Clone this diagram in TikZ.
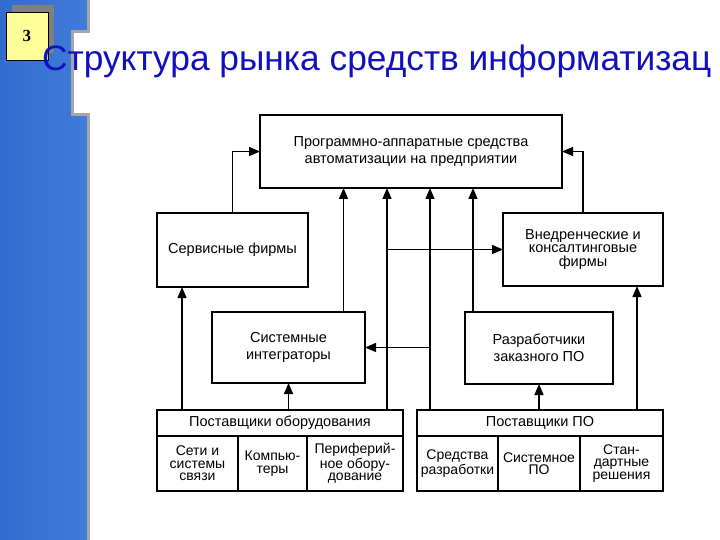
\documentclass[tikz,border=0pt]{standalone}
\usepackage{fontspec}
\setmainfont{Liberation Sans}
\newfontfamily\numfont{Liberation Serif}
\usetikzlibrary{arrows.meta}
\definecolor{stripe}{RGB}{50,108,208}
\definecolor{stripelight}{RGB}{64,124,218}
\definecolor{titleblue}{RGB}{16,16,190}
\definecolor{numyellow}{RGB}{255,255,153}

\begin{document}
\begin{tikzpicture}[x=1pt, y=-1pt,
    box/.style={draw, line width=1.4pt, inner sep=0pt, outer sep=0pt, align=center,
      font=\fontsize{14.5}{16.5}\selectfont},
    cell/.style={box, font=\fontsize{14}{12.5}\selectfont},
    arr/.style={line width=1.4pt, -{Triangle[length=11pt, width=9pt]}}]
  \useasboundingbox (0,0) rectangle (720,540);

  % left stripe
  \shade[left color=stripe, right color=stripelight] (0,0) -- (88,0) -- (88,32) -- (72,32) -- (72,115) -- (88,115) -- (88,540) -- (0,540) -- cycle;
  \draw[gray!70, line width=3pt] (88,0) -- (88,32) -- (72,32) -- (72,115) -- (88,115) -- (88,540);

  % slide number and title
  \fill[gray] (12,5) rectangle (54,53);
  \node[draw, fill=numyellow, minimum width=42pt, minimum height=48pt, inner sep=0pt, outer sep=0pt,
    font=\numfont\bfseries\fontsize{17}{17}\selectfont] (num) at (27,36) {3};
  \node[anchor=base west, text=titleblue, inner sep=0pt, font=\fontsize{35.3}{40}\selectfont] (title) at (42,71)
    {Структура рынка средств информатизац};

  % boxes
  \node[box, minimum width=302pt, minimum height=73pt] (top) at (411,151.5) {Программно-аппаратные средства\\автоматизации на предприятии};
  \node[box, minimum width=151pt, minimum height=74pt] (serv) at (232.5,250) {Сервисные фирмы};
  \node[box, minimum width=160pt, minimum height=73pt, font=\fontsize{14.5}{13.5}\selectfont] (vnedr) at (583,249.5) {Внедренческие и\\консалтинговые\\фирмы};
  \node[box, minimum width=153pt, minimum height=71pt] (integ) at (288.5,347.5) {Системные\\интеграторы};
  \node[box, minimum width=148pt, minimum height=72pt] (dev) at (539,348) {Разработчики\\заказного ПО};

  % suppliers
  \node[box, minimum width=246pt, minimum height=26pt] (hwhead) at (280,423) {Поставщики оборудования};
  \node[cell, minimum width=81pt, minimum height=55pt] (hw1) at (197.5,463.5) {Сети и\\системы\\связи};
  \node[cell, minimum width=69pt, minimum height=55pt] (hw2) at (272.5,463.5) {Компью-\\теры};
  \node[cell, minimum width=96pt, minimum height=55pt] (hw3) at (355,463.5) {Периферий-\\ное обору-\\дование};
  \node[box, minimum width=246pt, minimum height=26pt] (swhead) at (540,423) {Поставщики ПО};
  \node[cell, minimum width=81pt, minimum height=55pt] (sw1) at (457.5,463.5) {Средства\\разработки};
  \node[cell, minimum width=82pt, minimum height=55pt] (sw2) at (539,463.5) {Системное\\ПО};
  \node[cell, minimum width=83pt, minimum height=55pt] (sw3) at (621.5,463.5) {Стан-\\дартные\\решения};

  % connections
  \draw[arr] (serv.north) |- (top.west);
  \draw[arr] (vnedr.north) |- (top.east);
  \draw[arr] ([xshift=25pt]hwhead.north west) -- ([xshift=25pt]serv.south west);
  \draw[arr] ([xshift=-26pt]swhead.north east) -- ([xshift=-26pt]vnedr.south east);
  \draw[arr] (hwhead.north -| integ.south) -- (integ.south);
  \draw[arr] (swhead.north -| dev.south) -- (dev.south);

  \coordinate (i1) at ([xshift=55pt]integ.north);
  \coordinate (h1) at ([xshift=-16pt]hwhead.north east);
  \coordinate (s1) at ([xshift=13pt]swhead.north west);
  \coordinate (d1) at ([xshift=8pt]dev.north west);
  \draw[arr] (i1) -- (i1 |- top.south);
  \draw[arr] (h1) -- (h1 |- top.south);
  \draw[arr] (s1) -- (s1 |- top.south);
  \draw[arr] (d1) -- (d1 |- top.south);
  \draw[arr] (h1 |- vnedr.west) -- (vnedr.west);
  \draw[arr] (s1 |- integ.east) -- (integ.east);

\end{tikzpicture}
\end{document}
